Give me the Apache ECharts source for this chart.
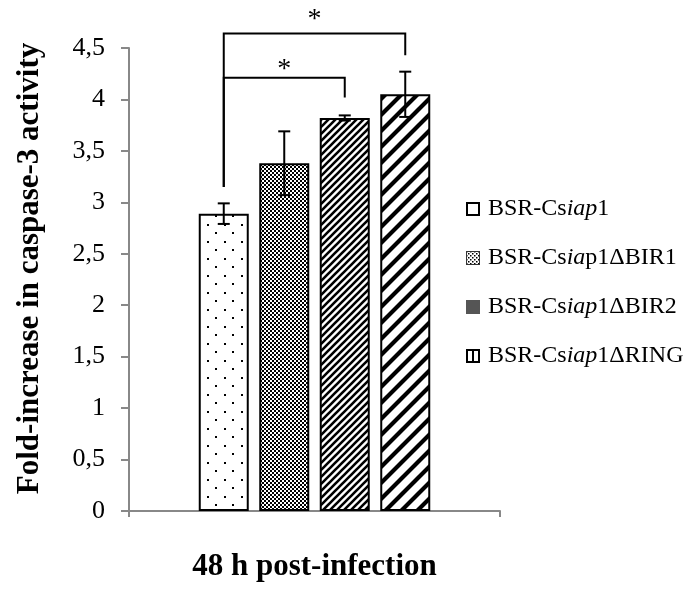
<!DOCTYPE html>
<html>
<head>
<meta charset="utf-8">
<script src="https://cdn.jsdelivr.net/npm/echarts@6/dist/echarts.min.js"></script>
<style>html,body{margin:0;padding:0;background:#fff;}#c{width:685px;height:592px;}</style>
</head>
<body>
<div id="c"></div>
<script>
// ---- data ----
const categories = ['48 h post-infection'];
const seriesNames = ['BSR-Csiap1', 'BSR-Csiap1ΔBIR1', 'BSR-Csiap1ΔBIR2', 'BSR-Csiap1ΔRING'];
const legendLabels = ['BSR-Cs{i|iap}1', 'BSR-Cs{i|ia}p1ΔBIR1', 'BSR-Cs{i|iap}1ΔBIR2', 'BSR-Cs{i|iap}1ΔRING'];
const meanValues = [2.89, 3.38, 3.82, 4.05];
const errValues = [0.10, 0.31, 0.025, 0.22];
const yMin = 0, yMax = 4.5, yStep = 0.5;
const xAxisTitle = '48 h post-infection';
const yAxisTitle = 'Fold-increase in caspase-3 activity';
// significance brackets: from series, to series, bracket level, left foot, right foot, label level, label
const bracketFrom = [0, 0];
const bracketTo = [2, 3];
const bracketLevel = [4.21, 4.64];
const bracketLeftFoot = [3.15, 3.15];
const bracketRightFoot = [4.02, 4.43];
const bracketLabelLevel = [4.33, 4.81];
const bracketLabel = ['*', '*'];

// ---- styling ----
const SERIF = '"Liberation Serif", "Times New Roman", serif';
const BAR_W = 50;
const GAP_RATIO = 0.21;

function tile(w, h, draw) {
  const c = document.createElement('canvas');
  c.width = w; c.height = h;
  const g = c.getContext('2d');
  g.fillStyle = '#fff'; g.fillRect(0, 0, w, h);
  draw(g, w, h);
  return c;
}
const dotsTile = tile(17, 17, (g) => { g.fillStyle = '#000'; g.fillRect(3, 3, 2, 2); g.fillRect(11, 11, 2, 2); });
const checkTile = tile(4, 4, (g) => { g.fillStyle = '#000'; g.fillRect(0, 0, 2, 2); g.fillRect(2, 2, 2, 2); });
function diag(s, lw) {
  return tile(s, s, (g) => {
    g.strokeStyle = '#000'; g.lineWidth = lw; g.lineCap = 'square';
    g.beginPath();
    g.moveTo(0, s); g.lineTo(s, 0);
    g.moveTo(-s, s); g.lineTo(s, -s);
    g.moveTo(0, 2 * s); g.lineTo(2 * s, 0);
    g.stroke();
  });
}
const fineDiag = diag(7, 2.6);
const wideDiag = diag(16, 4.2);
const fills = [dotsTile, checkTile, fineDiag, wideDiag].map(t => ({ image: t, repeat: 'repeat' }));

function iconUrl(draw) {
  const c = document.createElement('canvas');
  c.width = 14; c.height = 14;
  const g = c.getContext('2d');
  draw(g);
  return 'image://' + c.toDataURL();
}
const legendIcons = [
  iconUrl(g => { g.fillStyle = '#fff'; g.fillRect(0, 0, 14, 14); g.strokeStyle = '#000'; g.lineWidth = 2; g.strokeRect(1, 1, 12, 12); }),
  iconUrl(g => { g.fillStyle = '#fff'; g.fillRect(0, 0, 14, 14); g.fillStyle = '#000';
    for (let y = 0; y < 14; y += 2) for (let x = 0; x < 14; x += 2) if (((x + y) / 2) % 2 === 0) g.fillRect(x, y, 1.5, 1.5);
    g.strokeStyle = '#333'; g.lineWidth = 1; g.strokeRect(0.5, 0.5, 13, 13); }),
  iconUrl(g => { g.fillStyle = '#555'; g.fillRect(0, 0, 14, 14); }),
  iconUrl(g => { g.fillStyle = '#fff'; g.fillRect(0, 0, 14, 14); g.fillStyle = '#000';
    g.fillRect(0, 0, 14, 2); g.fillRect(0, 12, 14, 2); g.fillRect(0, 0, 2, 14); g.fillRect(12, 0, 2, 14); g.fillRect(6, 0, 2, 14); })
];

function barOffset(s) {
  const gap = BAR_W * GAP_RATIO;
  const total = seriesNames.length * BAR_W + (seriesNames.length - 1) * gap;
  return -total / 2 + s * (BAR_W + gap) + BAR_W / 2;
}

const barSeries = seriesNames.map((name, s) => ({
  name: name,
  type: 'bar',
  barWidth: BAR_W,
  barGap: (GAP_RATIO * 100) + '%',
  data: [meanValues[s]],
  itemStyle: { color: fills[s], borderColor: '#000', borderWidth: 2 },
  emphasis: { disabled: true },
  z: 2
}));

const errData = meanValues.map((m, s) => [0, s, m, errValues[s]]);
const errSeries = {
  type: 'custom',
  coordinateSystem: 'cartesian2d',
  data: errData,
  z: 5,
  silent: true,
  renderItem: function (params, api) {
    const s = api.value(1), m = api.value(2), e = api.value(3);
    const x = api.coord([0, m])[0] + barOffset(s);
    const yt = api.coord([0, m + e])[1];
    const yb = api.coord([0, m - e])[1];
    const cap = 6;
    const st = { stroke: '#000', lineWidth: 2 };
    return { type: 'group', children: [
      { type: 'line', shape: { x1: x, y1: yt, x2: x, y2: yb }, style: st },
      { type: 'line', shape: { x1: x - cap, y1: yt, x2: x + cap, y2: yt }, style: st },
      { type: 'line', shape: { x1: x - cap, y1: yb, x2: x + cap, y2: yb }, style: st }
    ] };
  }
};

const brData = bracketFrom.map((f, i) => [0, f, bracketTo[i], bracketLevel[i], bracketLeftFoot[i], bracketRightFoot[i], bracketLabelLevel[i], i]);
const bracketSeries = {
  type: 'custom',
  coordinateSystem: 'cartesian2d',
  data: brData,
  z: 6,
  silent: true,
  clip: false,
  renderItem: function (params, api) {
    const f = api.value(1), t = api.value(2), lv = api.value(3), lf = api.value(4), rf = api.value(5), sl = api.value(6), i = api.value(7);
    const cx = api.coord([0, lv])[0];
    const x1 = cx + barOffset(f), x2 = cx + barOffset(t);
    const yl = api.coord([0, lv])[1], y1 = api.coord([0, lf])[1], y2 = api.coord([0, rf])[1];
    const ys = api.coord([0, sl])[1];
    const st = { stroke: '#000', lineWidth: 2, fill: null };
    return { type: 'group', children: [
      { type: 'polyline', shape: { points: [[x1, y1], [x1, yl], [x2, yl], [x2, y2]] }, style: st },
      { type: 'text', style: { text: bracketLabel[i], x: (x1 + x2) / 2, y: ys + 4, align: 'center', verticalAlign: 'middle',
        font: '28px ' + SERIF, fill: '#000' } }
    ] };
  }
};

const chart = echarts.init(document.getElementById('c'), null, { renderer: 'canvas' });
chart.setOption({
  backgroundColor: '#fff',
  animation: false,
  grid: { left: 129, right: 185, top: 48, bottom: 81, containLabel: false },
  legend: {
    orient: 'vertical',
    left: 466,
    top: 195,
    padding: 0,
    itemWidth: 14,
    itemHeight: 14,
    itemGap: 21,
    selectedMode: false,
    data: seriesNames.map((n, s) => ({ name: n, icon: legendIcons[s] })),
    formatter: function (name) { return legendLabels[seriesNames.indexOf(name)]; },
    textStyle: {
      fontFamily: SERIF, fontSize: 24, color: '#000', lineHeight: 28, padding: [0, 0, 0, 3],
      rich: { i: { fontFamily: SERIF, fontSize: 24, fontStyle: 'italic', color: '#000', lineHeight: 28 } }
    }
  },
  xAxis: {
    type: 'category',
    data: categories,
    name: xAxisTitle,
    nameLocation: 'middle',
    nameGap: 40,
    nameTextStyle: { fontFamily: SERIF, fontWeight: 'bold', fontSize: 31, color: '#000' },
    axisLine: { lineStyle: { color: '#888', width: 2 } },
    axisTick: { show: true, length: 6, lineStyle: { color: '#888', width: 2 } },
    axisLabel: { show: false }
  },
  yAxis: {
    type: 'value',
    min: yMin, max: yMax, interval: yStep,
    name: yAxisTitle,
    nameLocation: 'middle',
    nameGap: 84,
    nameTextStyle: { fontFamily: SERIF, fontWeight: 'bold', fontSize: 31, color: '#000', padding: [0, 0, 0, 22] },
    splitLine: { show: false },
    axisLine: { show: true, lineStyle: { color: '#888', width: 2 } },
    axisTick: { show: true, length: 8, lineStyle: { color: '#888', width: 2 } },
    axisLabel: { fontFamily: SERIF, fontSize: 26, color: '#000', margin: 24,
      formatter: v => String(v).replace('.', ',') }
  },
  series: [...barSeries, errSeries, bracketSeries]
});
</script>
</body>
</html>
